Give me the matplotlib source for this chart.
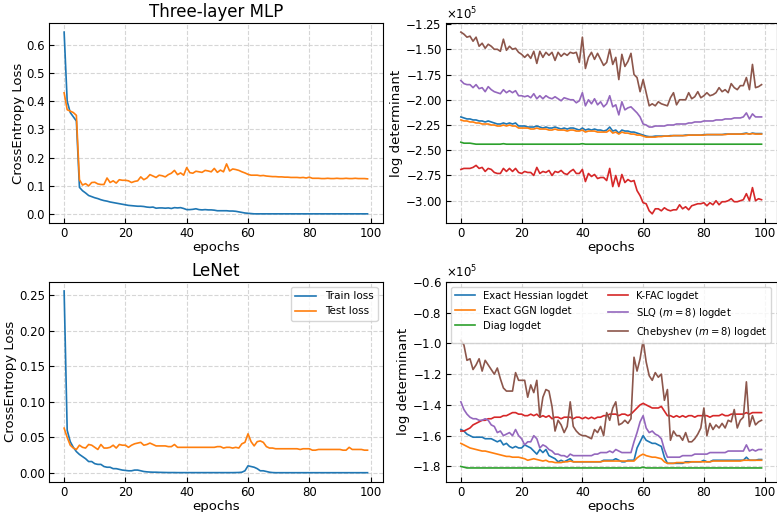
import numpy as np
import matplotlib
matplotlib.use("Agg")
import matplotlib.pyplot as plt
from matplotlib.ticker import MultipleLocator

# epochs 0..99
epochs = list(range(100))

# ---- Three-layer MLP losses ----
mlp_train = [
    0.645, 0.40, 0.36, 0.345, 0.33, 0.095, 0.083, 0.075, 0.066, 0.062,
    0.058, 0.055, 0.051, 0.048, 0.046, 0.043, 0.041, 0.039, 0.037, 0.035,
    0.033, 0.031, 0.030, 0.029, 0.028, 0.028, 0.027, 0.025, 0.024, 0.025,
    0.021, 0.022, 0.022, 0.021, 0.022, 0.020, 0.023, 0.022, 0.023, 0.020,
    0.016, 0.016, 0.017, 0.019, 0.016, 0.015, 0.016, 0.015, 0.015, 0.014,
    0.012, 0.012, 0.012, 0.012, 0.011, 0.011, 0.010, 0.008, 0.006, 0.004,
    0.003, 0.002, 0.001, 0.001, 0.001, 0.001, 0.001, 0.001, 0.001, 0.001,
    0.001, 0.001, 0.001, 0.001, 0.001, 0.001, 0.001, 0.001, 0.001, 0.001,
    0.001, 0.001, 0.001, 0.001, 0.001, 0.001, 0.001, 0.001, 0.001, 0.001,
    0.001, 0.001, 0.001, 0.001, 0.001, 0.001, 0.001, 0.001, 0.001, 0.001,
]
mlp_test = [
    0.43, 0.37, 0.365, 0.36, 0.35, 0.122, 0.103, 0.108, 0.100, 0.112,
    0.113, 0.107, 0.105, 0.105, 0.128, 0.112, 0.118, 0.110, 0.122, 0.120,
    0.120, 0.118, 0.112, 0.116, 0.118, 0.132, 0.122, 0.128, 0.140, 0.135,
    0.130, 0.138, 0.136, 0.132, 0.140, 0.145, 0.155, 0.140, 0.146, 0.138,
    0.165, 0.147, 0.145, 0.152, 0.150, 0.148, 0.155, 0.153, 0.150, 0.162,
    0.148, 0.156, 0.150, 0.178, 0.153, 0.160, 0.158, 0.155, 0.150, 0.146,
    0.141, 0.138, 0.138, 0.138, 0.136, 0.137, 0.135, 0.134, 0.133, 0.133,
    0.132, 0.132, 0.131, 0.131, 0.130, 0.130, 0.130, 0.129, 0.130, 0.128,
    0.131, 0.127, 0.127, 0.127, 0.126, 0.126, 0.127, 0.126, 0.126, 0.127,
    0.126, 0.126, 0.127, 0.126, 0.126, 0.127, 0.126, 0.126, 0.126, 0.125,
]

# ---- LeNet losses ----
lenet_train = [
    0.256, 0.060, 0.044, 0.036, 0.030, 0.026, 0.023, 0.020, 0.016, 0.016,
    0.013, 0.012, 0.012, 0.009, 0.008, 0.008, 0.006, 0.006, 0.005, 0.004,
    0.0035, 0.003, 0.003, 0.004, 0.004, 0.003, 0.002, 0.0015, 0.0012, 0.001,
    0.001, 0.0008, 0.0007, 0.0006, 0.0005, 0.0005, 0.0005, 0.0004, 0.0004, 0.0004,
    0.0004, 0.0004, 0.0004, 0.0004, 0.0004, 0.0004, 0.0004, 0.0004, 0.0004, 0.0004,
    0.0004, 0.0004, 0.0004, 0.0004, 0.0004, 0.0004, 0.0005, 0.0006, 0.001, 0.003,
    0.010, 0.009, 0.008, 0.006, 0.003, 0.003, 0.002, 0.001, 0.0005, 0.0003,
    0.0003, 0.0003, 0.0003, 0.0003, 0.0003, 0.0003, 0.0003, 0.0003, 0.0003, 0.0003,
    0.0003, 0.0003, 0.0003, 0.0003, 0.0003, 0.0003, 0.0003, 0.0003, 0.0003, 0.0003,
    0.0003, 0.0003, 0.0003, 0.0003, 0.0003, 0.0003, 0.0003, 0.0003, 0.0003, 0.0003,
]
lenet_test = [
    0.063, 0.050, 0.039, 0.035, 0.033, 0.039, 0.036, 0.035, 0.040, 0.039,
    0.036, 0.033, 0.040, 0.035, 0.035, 0.036, 0.039, 0.035, 0.040, 0.039,
    0.039, 0.036, 0.039, 0.041, 0.042, 0.043, 0.039, 0.040, 0.042, 0.040,
    0.038, 0.038, 0.038, 0.038, 0.037, 0.037, 0.040, 0.036, 0.036, 0.036,
    0.036, 0.036, 0.036, 0.036, 0.036, 0.036, 0.036, 0.036, 0.036, 0.036,
    0.037, 0.037, 0.035, 0.036, 0.036, 0.035, 0.036, 0.035, 0.041, 0.043,
    0.055, 0.044, 0.038, 0.044, 0.045, 0.043, 0.037, 0.035, 0.035, 0.034,
    0.034, 0.034, 0.034, 0.034, 0.034, 0.034, 0.034, 0.033, 0.034, 0.034,
    0.034, 0.032, 0.032, 0.033, 0.033, 0.033, 0.033, 0.033, 0.033, 0.033,
    0.033, 0.032, 0.032, 0.036, 0.033, 0.033, 0.033, 0.033, 0.032, 0.032,
]

# ---- MLP log determinants (units of 1e5) ----
mlp_hess = [
    -2.17, -2.18, -2.19, -2.19, -2.20, -2.20, -2.21, -2.21, -2.22, -2.21,
    -2.22, -2.23, -2.24, -2.24, -2.23, -2.24, -2.23, -2.24, -2.23, -2.26,
    -2.26, -2.26, -2.27, -2.27, -2.27, -2.26, -2.27, -2.28, -2.27, -2.28,
    -2.28, -2.27, -2.28, -2.29, -2.28, -2.29, -2.28, -2.28, -2.29, -2.30,
    -2.28, -2.30, -2.29, -2.30, -2.29, -2.30, -2.30, -2.31, -2.30, -2.27,
    -2.31, -2.30, -2.33, -2.30, -2.31, -2.31, -2.32, -2.32, -2.33, -2.34,
    -2.35, -2.36, -2.365, -2.365, -2.36, -2.36, -2.36, -2.36, -2.36, -2.355,
    -2.355, -2.355, -2.355, -2.355, -2.35, -2.35, -2.35, -2.35, -2.35, -2.35,
    -2.345, -2.345, -2.345, -2.345, -2.345, -2.345, -2.345, -2.34, -2.34, -2.34,
    -2.34, -2.34, -2.34, -2.335, -2.33, -2.34, -2.33, -2.335, -2.335, -2.335,
]
mlp_ggn = [
    -2.20, -2.21, -2.21, -2.22, -2.22, -2.23, -2.23, -2.24, -2.24, -2.24,
    -2.25, -2.25, -2.26, -2.26, -2.25, -2.26, -2.25, -2.26, -2.26, -2.28,
    -2.28, -2.28, -2.28, -2.29, -2.29, -2.28, -2.29, -2.29, -2.29, -2.30,
    -2.30, -2.29, -2.30, -2.30, -2.30, -2.31, -2.30, -2.30, -2.31, -2.31,
    -2.30, -2.32, -2.31, -2.31, -2.31, -2.32, -2.32, -2.32, -2.32, -2.30,
    -2.33, -2.32, -2.34, -2.32, -2.33, -2.33, -2.34, -2.34, -2.35, -2.35,
    -2.36, -2.37, -2.37, -2.37, -2.37, -2.365, -2.365, -2.36, -2.36, -2.36,
    -2.355, -2.355, -2.355, -2.355, -2.355, -2.35, -2.35, -2.35, -2.35, -2.35,
    -2.35, -2.345, -2.345, -2.345, -2.345, -2.345, -2.345, -2.345, -2.34, -2.34,
    -2.34, -2.34, -2.34, -2.34, -2.335, -2.34, -2.335, -2.34, -2.34, -2.34,
]
mlp_diag = [
    -2.42, -2.43, -2.43, -2.43, -2.435, -2.44, -2.44, -2.44, -2.44, -2.44,
    -2.44, -2.44, -2.44, -2.44, -2.435, -2.44, -2.44, -2.44, -2.44, -2.44,
    -2.44, -2.44, -2.44, -2.44, -2.44, -2.44, -2.44, -2.44, -2.44, -2.44,
    -2.44, -2.44, -2.44, -2.44, -2.44, -2.44, -2.44, -2.44, -2.44, -2.44,
    -2.435, -2.44, -2.44, -2.44, -2.44, -2.44, -2.44, -2.44, -2.44, -2.44,
    -2.44, -2.44, -2.44, -2.44, -2.44, -2.44, -2.44, -2.44, -2.44, -2.44,
    -2.44, -2.44, -2.44, -2.44, -2.44, -2.44, -2.44, -2.44, -2.44, -2.44,
    -2.44, -2.44, -2.44, -2.44, -2.44, -2.44, -2.44, -2.44, -2.44, -2.44,
    -2.44, -2.44, -2.44, -2.44, -2.44, -2.44, -2.44, -2.44, -2.44, -2.44,
    -2.44, -2.44, -2.44, -2.44, -2.44, -2.44, -2.44, -2.44, -2.44, -2.44,
]
mlp_kfac = [
    -2.69, -2.68, -2.68, -2.68, -2.67, -2.65, -2.68, -2.67, -2.71, -2.68,
    -2.69, -2.72, -2.73, -2.73, -2.68, -2.71, -2.68, -2.71, -2.68, -2.72,
    -2.73, -2.71, -2.72, -2.72, -2.75, -2.67, -2.73, -2.71, -2.72, -2.70,
    -2.75, -2.71, -2.72, -2.70, -2.73, -2.74, -2.71, -2.69, -2.73, -2.73,
    -2.69, -2.81, -2.73, -2.76, -2.74, -2.78, -2.77, -2.77, -2.80, -2.68,
    -2.86, -2.75, -2.86, -2.74, -2.82, -2.79, -2.81, -2.80, -2.90, -2.95,
    -3.02, -3.03, -3.10, -3.13, -3.08, -3.08, -3.10, -3.07, -3.09, -3.10,
    -3.09, -3.09, -3.04, -3.08, -3.06, -3.09, -3.05, -3.04, -3.03, -3.03,
    -3.02, -3.05, -3.02, -3.04, -3.00, -3.04, -3.01, -3.01, -3.00, -2.98,
    -3.01, -3.01, -3.00, -2.99, -2.93, -3.00, -2.87, -3.00, -2.98, -2.99,
]
mlp_slq = [
    -1.81, -1.84, -1.85, -1.85, -1.88, -1.85, -1.89, -1.88, -1.92, -1.87,
    -1.90, -1.92, -1.93, -1.94, -1.90, -1.93, -1.91, -1.93, -1.91, -1.96,
    -1.96, -1.97, -1.96, -1.98, -1.94, -1.99, -1.96, -1.99, -1.96, -1.98,
    -1.99, -1.97, -1.99, -2.01, -1.98, -1.99, -2.00, -2.00, -2.03, -2.01,
    -1.93, -2.06, -2.00, -2.04, -1.99, -2.05, -2.02, -2.07, -2.04, -1.96,
    -2.07, -2.05, -2.15, -2.02, -2.10, -2.08, -2.07, -2.10, -2.13, -2.17,
    -2.24, -2.25, -2.27, -2.27, -2.26, -2.26, -2.26, -2.26, -2.25, -2.25,
    -2.25, -2.24, -2.24, -2.24, -2.24, -2.23, -2.23, -2.22, -2.22, -2.22,
    -2.21, -2.21, -2.21, -2.21, -2.20, -2.20, -2.20, -2.19, -2.19, -2.19,
    -2.18, -2.18, -2.18, -2.17, -2.13, -2.19, -2.14, -2.17, -2.17, -2.17,
]
mlp_cheb = [
    -1.33, -1.35, -1.38, -1.37, -1.42, -1.38, -1.47, -1.44, -1.49, -1.45,
    -1.47, -1.50, -1.50, -1.52, -1.40, -1.51, -1.47, -1.50, -1.49, -1.53,
    -1.55, -1.58, -1.55, -1.59, -1.52, -1.64, -1.52, -1.58, -1.53, -1.56,
    -1.53, -1.61, -1.53, -1.57, -1.54, -1.56, -1.53, -1.54, -1.53, -1.63,
    -1.38, -1.69, -1.58, -1.53, -1.60, -1.54, -1.60, -1.66, -1.63, -1.50,
    -1.65, -1.58, -1.80, -1.55, -1.67, -1.62, -1.54, -1.75, -1.78, -1.92,
    -1.80, -1.93, -2.06, -2.04, -2.06, -2.02, -2.04, -2.05, -2.06, -1.98,
    -1.93, -2.05, -2.00, -2.00, -2.00, -1.93, -1.99, -1.97, -1.92, -1.98,
    -1.96, -1.93, -1.96, -1.95, -1.93, -1.88, -1.92, -1.90, -1.93, -1.84,
    -1.88, -1.90, -1.86, -1.86, -1.78, -1.90, -1.65, -1.88, -1.87, -1.85,
]

# ---- LeNet log determinants (units of 1e5) ----
lenet_hess = [
    -1.56, -1.57, -1.59, -1.60, -1.61, -1.61, -1.61, -1.61, -1.62, -1.62,
    -1.62, -1.63, -1.64, -1.63, -1.66, -1.65, -1.67, -1.68, -1.67, -1.68,
    -1.68, -1.66, -1.67, -1.68, -1.70, -1.72, -1.69, -1.71, -1.69, -1.73,
    -1.74, -1.75, -1.77, -1.76, -1.77, -1.76, -1.75, -1.77, -1.77, -1.77,
    -1.77, -1.77, -1.77, -1.77, -1.77, -1.77, -1.77, -1.76, -1.76, -1.76,
    -1.76, -1.75, -1.76, -1.77, -1.77, -1.76, -1.76, -1.76, -1.68, -1.64,
    -1.60, -1.63, -1.64, -1.65, -1.65, -1.66, -1.67, -1.74, -1.78, -1.78,
    -1.78, -1.78, -1.78, -1.78, -1.77, -1.77, -1.77, -1.77, -1.77, -1.77,
    -1.76, -1.77, -1.77, -1.76, -1.76, -1.76, -1.76, -1.76, -1.76, -1.76,
    -1.76, -1.76, -1.76, -1.76, -1.74, -1.76, -1.76, -1.76, -1.755, -1.755,
]
lenet_ggn = [
    -1.65, -1.66, -1.67, -1.68, -1.685, -1.69, -1.695, -1.70, -1.70, -1.705,
    -1.71, -1.715, -1.72, -1.725, -1.73, -1.735, -1.735, -1.74, -1.74, -1.74,
    -1.745, -1.75, -1.76, -1.755, -1.75, -1.755, -1.76, -1.765, -1.76, -1.77,
    -1.77, -1.775, -1.775, -1.775, -1.77, -1.77, -1.765, -1.77, -1.77, -1.77,
    -1.77, -1.77, -1.77, -1.77, -1.77, -1.77, -1.77, -1.765, -1.765, -1.765,
    -1.765, -1.765, -1.765, -1.765, -1.765, -1.765, -1.765, -1.765, -1.745, -1.73,
    -1.72, -1.73, -1.735, -1.74, -1.74, -1.745, -1.75, -1.77, -1.78, -1.78,
    -1.78, -1.775, -1.775, -1.775, -1.775, -1.775, -1.77, -1.77, -1.77, -1.77,
    -1.77, -1.77, -1.77, -1.765, -1.765, -1.765, -1.765, -1.765, -1.765, -1.765,
    -1.765, -1.765, -1.765, -1.76, -1.76, -1.76, -1.76, -1.76, -1.76, -1.76,
]
lenet_diag = [
    -1.80, -1.805, -1.81, -1.81, -1.81, -1.81, -1.81, -1.81, -1.81, -1.81,
    -1.81, -1.81, -1.81, -1.81, -1.81, -1.81, -1.81, -1.81, -1.81, -1.81,
    -1.81, -1.81, -1.81, -1.81, -1.81, -1.81, -1.81, -1.81, -1.81, -1.81,
    -1.81, -1.81, -1.81, -1.81, -1.81, -1.81, -1.81, -1.81, -1.81, -1.81,
    -1.81, -1.81, -1.81, -1.81, -1.81, -1.81, -1.81, -1.81, -1.81, -1.81,
    -1.81, -1.81, -1.81, -1.81, -1.81, -1.81, -1.81, -1.81, -1.81, -1.81,
    -1.805, -1.81, -1.81, -1.81, -1.81, -1.81, -1.81, -1.81, -1.81, -1.81,
    -1.81, -1.81, -1.81, -1.81, -1.81, -1.81, -1.81, -1.81, -1.81, -1.81,
    -1.81, -1.81, -1.81, -1.81, -1.81, -1.81, -1.81, -1.81, -1.81, -1.81,
    -1.81, -1.81, -1.81, -1.81, -1.81, -1.81, -1.81, -1.81, -1.81, -1.81,
]
lenet_kfac = [
    -1.57, -1.57, -1.56, -1.55, -1.53, -1.52, -1.51, -1.50, -1.50, -1.49,
    -1.49, -1.48, -1.48, -1.48, -1.47, -1.47, -1.46, -1.45, -1.45, -1.46,
    -1.46, -1.47, -1.47, -1.46, -1.47, -1.46, -1.48, -1.47, -1.48, -1.47,
    -1.49, -1.48, -1.48, -1.49, -1.48, -1.48, -1.48, -1.49, -1.48, -1.48,
    -1.49, -1.48, -1.49, -1.48, -1.49, -1.48, -1.48, -1.47, -1.47, -1.46,
    -1.46, -1.46, -1.47, -1.46, -1.46, -1.47, -1.46, -1.44, -1.42, -1.40,
    -1.39, -1.40, -1.41, -1.42, -1.42, -1.42, -1.41, -1.44, -1.47, -1.47,
    -1.48, -1.47, -1.48, -1.47, -1.48, -1.47, -1.47, -1.48, -1.47, -1.47,
    -1.47, -1.47, -1.48, -1.47, -1.47, -1.47, -1.46, -1.47, -1.47, -1.46,
    -1.46, -1.46, -1.46, -1.46, -1.45, -1.46, -1.45, -1.45, -1.45, -1.45,
]
lenet_slq = [
    -1.38, -1.43, -1.46, -1.48, -1.49, -1.49, -1.50, -1.50, -1.49, -1.50,
    -1.53, -1.54, -1.58, -1.57, -1.60, -1.59, -1.58, -1.60, -1.56, -1.60,
    -1.62, -1.66, -1.64, -1.64, -1.60, -1.62, -1.68, -1.66, -1.67, -1.69,
    -1.70, -1.72, -1.72, -1.73, -1.73, -1.74, -1.72, -1.73, -1.73, -1.73,
    -1.73, -1.73, -1.73, -1.73, -1.72, -1.72, -1.71, -1.71, -1.71, -1.70,
    -1.71, -1.69, -1.70, -1.71, -1.71, -1.71, -1.71, -1.64, -1.58, -1.51,
    -1.47, -1.55, -1.58, -1.57, -1.59, -1.60, -1.62, -1.69, -1.74, -1.74,
    -1.74, -1.74, -1.74, -1.73, -1.73, -1.73, -1.73, -1.72, -1.72, -1.72,
    -1.72, -1.72, -1.71, -1.71, -1.71, -1.71, -1.71, -1.71, -1.70, -1.70,
    -1.70, -1.70, -1.70, -1.70, -1.66, -1.70, -1.69, -1.70, -1.69, -1.69,
]
lenet_cheb = [
    -0.98, -1.01, -1.11, -1.10, -1.17, -1.14, -1.10, -1.18, -1.11, -1.14,
    -1.17, -1.20, -1.16, -1.23, -1.29, -1.31, -1.31, -1.31, -1.19, -1.24,
    -1.24, -1.24, -1.35, -1.27, -1.32, -1.24, -1.48, -1.35, -1.30, -1.31,
    -1.41, -1.57, -1.50, -1.53, -1.58, -1.54, -1.38, -1.54, -1.57, -1.59,
    -1.60, -1.60, -1.61, -1.62, -1.56, -1.58, -1.54, -1.60, -1.45, -1.50,
    -1.42, -1.38, -1.53, -1.52, -1.50, -1.52, -1.49, -1.09, -1.18, -1.10,
    -0.98, -1.12, -1.21, -1.24, -1.19, -1.22, -1.20, -1.37, -1.30, -1.63,
    -1.57, -1.60, -1.60, -1.63, -1.58, -1.64, -1.64, -1.62, -1.59, -1.55,
    -1.42, -1.60, -1.52, -1.56, -1.53, -1.55, -1.52, -1.55, -1.50, -1.51,
    -1.43, -1.55, -1.50, -1.48, -1.25, -1.54, -1.47, -1.53, -1.51, -1.50,
]

logdet_labels = ["Exact Hessian logdet", "Exact GGN logdet", "Diag logdet",
                 "K-FAC logdet", r"SLQ ($m=8$) logdet", r"Chebyshev ($m=8$) logdet"]
scale = 1e5

fig, axes = plt.subplots(2, 2, figsize=(7.77, 5.12), dpi=100,
                         gridspec_kw={"width_ratios": [334, 331]})
fig.subplots_adjust(left=0.063, right=0.9995, top=0.955, bottom=0.059,
                    wspace=0.19, hspace=0.295)


def style(ax):
    ax.grid(True, linestyle="--", color="#cccccc", linewidth=0.8, alpha=0.8)
    ax.tick_params(direction="in", labelsize=8.5, pad=3)
    ax.set_xlabel("epochs", fontsize=9.5, labelpad=1)
    ax.set_xticks([0, 20, 40, 60, 80, 100])


# loss panels
for ax, tr, te, title in [(axes[0, 0], mlp_train, mlp_test, "Three-layer MLP"),
                          (axes[1, 0], lenet_train, lenet_test, "LeNet")]:
    ax.plot(epochs, tr, color="C0", lw=1.2, label="Train loss")
    ax.plot(epochs, te, color="C1", lw=1.2, label="Test loss")
    ax.set_title(title, fontsize=12, pad=4)
    ax.set_ylabel("CrossEntropy Loss", fontsize=9.5, labelpad=1)
    style(ax)
axes[1, 0].legend(loc="upper right", fontsize=7.5)

# logdet panels
mlp_sets = [mlp_hess, mlp_ggn, mlp_diag, mlp_kfac, mlp_slq, mlp_cheb]
lenet_sets = [lenet_hess, lenet_ggn, lenet_diag, lenet_kfac, lenet_slq, lenet_cheb]
for ax, sets in [(axes[0, 1], mlp_sets), (axes[1, 1], lenet_sets)]:
    for i, (vals, lab) in enumerate(zip(sets, logdet_labels)):
        ax.plot(epochs, np.array(vals) * scale, color=f"C{i}", lw=1.2, label=lab)
    ax.set_ylabel("log determinant", fontsize=9.5, labelpad=1)
    ax.ticklabel_format(axis="y", style="sci", scilimits=(0, 0), useMathText=True)
    ax.yaxis.get_offset_text().set_fontsize(8.5)
    style(ax)

axes[0, 1].yaxis.set_major_locator(MultipleLocator(0.25e5))
axes[1, 1].set_ylim(-1.9e5, -0.6e5)
axes[1, 1].legend(loc="upper left", ncol=2, fontsize=7.2)

fig.savefig("out.png", dpi=100)
